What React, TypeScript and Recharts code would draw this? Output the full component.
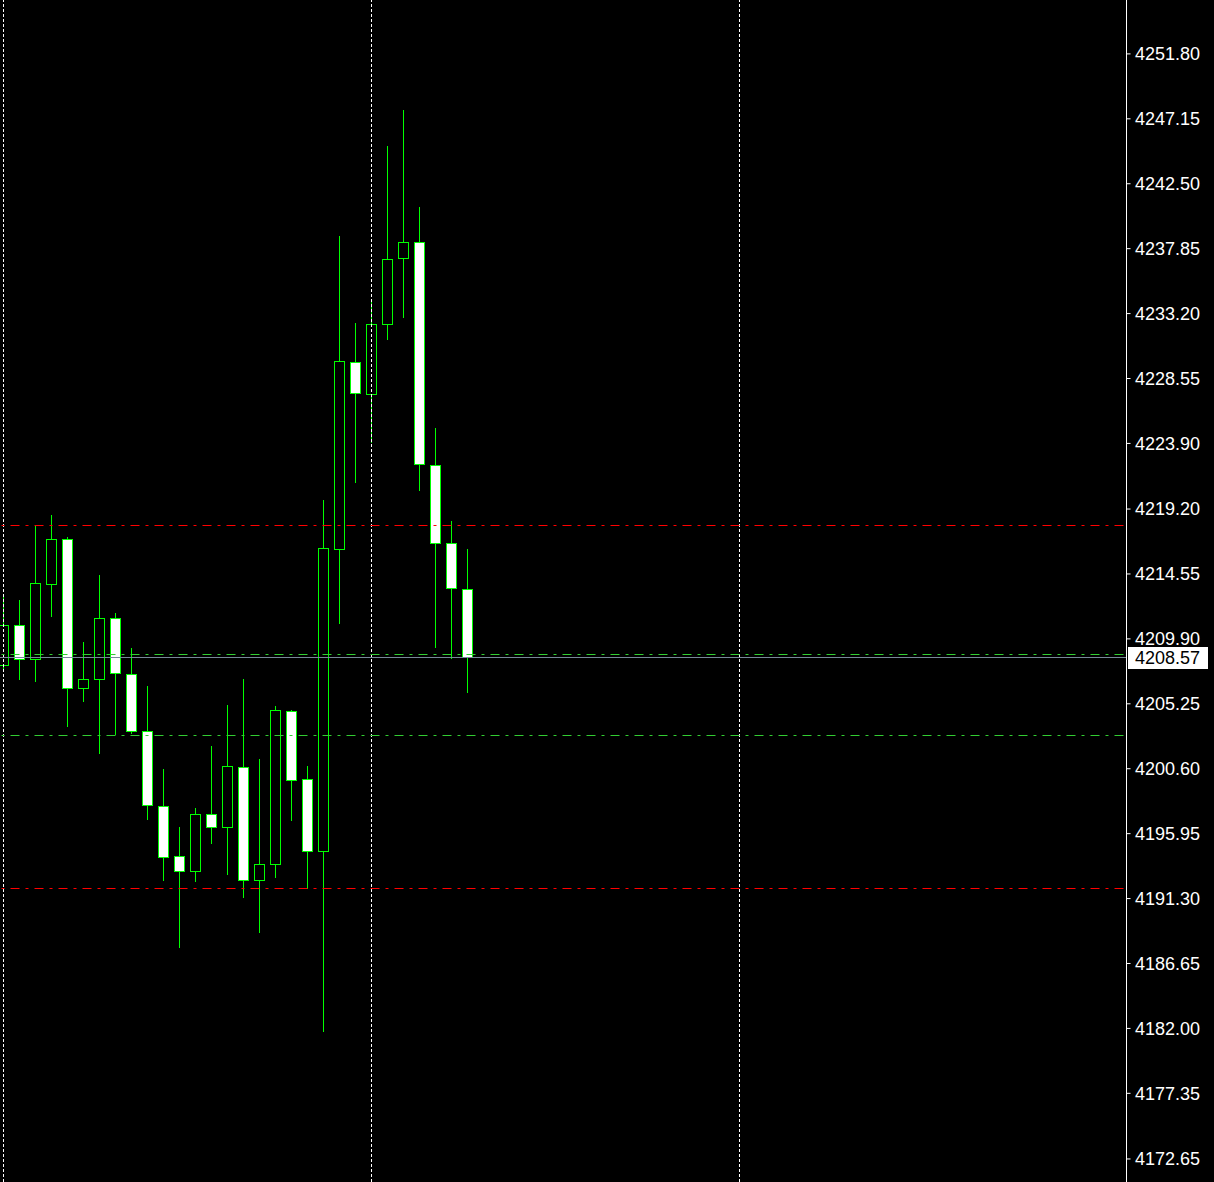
import { Bar, ComposedChart, ReferenceLine, XAxis, YAxis } from "recharts"

// bar index, 0 = leftmost (partly cut) candle
const opens = [
  4208.03, 4210.9, 4208.46, 4213.83, 4217.06, 4206.38, 4207.03, 4211.4, 4207.39, 4203.3,
  4197.93, 4194.35, 4193.28, 4197.36, 4196.43, 4200.72, 4192.63, 4193.78, 4204.74, 4199.87,
  4194.71, 4216.34, 4229.73, 4227.44, 4232.45, 4237.18, 4238.33, 4222.36, 4216.77, 4213.47,
]
const highs = [
  4213.04, 4212.69, 4218.06, 4218.77, 4217.2, 4209.68, 4214.48, 4211.76, 4209.25, 4206.53,
  4200.58, 4196.43, 4197.79, 4202.23, 4205.17, 4207.03, 4201.3, 4205.09, 4204.81, 4200.8,
  4219.85, 4238.76, 4232.53, 4234.17, 4245.2, 4247.78, 4240.83, 4225.01, 4218.34, 4216.34,
]
const lows = [
  4207.74, 4207.03, 4206.89, 4211.54, 4203.66, 4205.45, 4201.73, 4203.09, 4203.16, 4197.0,
  4192.63, 4187.83, 4192.56, 4195.28, 4193.06, 4191.41, 4188.91, 4192.85, 4196.93, 4192.06,
  4181.82, 4211.04, 4221.14, 4224.0, 4231.38, 4232.96, 4220.57, 4209.32, 4208.53, 4206.1,
]
const closes = [
  4210.9, 4208.46, 4213.9, 4217.06, 4206.38, 4207.03, 4211.4, 4207.46, 4203.3, 4198.0,
  4194.28, 4193.28, 4197.36, 4196.43, 4200.8, 4192.63, 4193.78, 4204.81, 4199.79, 4194.71,
  4216.41, 4229.8, 4227.51, 4232.45, 4237.11, 4238.33, 4222.43, 4216.77, 4213.55, 4208.57,
]

const priceTicks = [
  4172.65, 4177.35, 4182.0, 4186.65, 4191.3, 4195.95, 4200.6, 4205.25, 4209.9,
  4214.55, 4219.2, 4223.9, 4228.55, 4233.2, 4237.85, 4242.5, 4247.15, 4251.8,
]

const gridBars = [0, 23, 46]
const redLevels = [4218.04, 4192.04]
const greenLevels = [4208.8, 4203.0]
const lastPrice = 4208.57

const candles = opens.map((open, i) => ({
  i,
  open,
  high: highs[i],
  low: lows[i],
  close: closes[i],
  range: [lows[i], highs[i]],
}))

const GREEN = "#00ff00"
const FONT = "'Liberation Sans', Arial, sans-serif"

function Candle(props: any) {
  const { x, y, width, height, payload } = props
  if (x == null || y == null) return null
  const { open, close, high, low } = payload
  const top = Math.min(y, y + height)
  const bottom = Math.max(y, y + height)
  const toY = (v: number) => top + ((high - v) / (high - low || 1)) * (bottom - top)
  const cx = Math.round(x + width / 2) + 0.5
  const yo = Math.round(toY(open))
  const yc = Math.round(toY(close))
  const bTop = Math.min(yo, yc)
  const bBot = Math.max(yo, yc)
  return (
    <g>
      <line x1={cx} x2={cx} y1={Math.round(top)} y2={Math.round(bottom) + 1} stroke={GREEN} strokeWidth={1} />
      <rect
        x={cx - 5}
        y={bTop + 0.5}
        width={10}
        height={bBot - bTop}
        fill={close >= open ? "#000" : "#fff"}
        stroke={GREEN}
        strokeWidth={1}
      />
    </g>
  )
}

// snap reference lines onto whole pixels
function CrispLine(props: any) {
  const { x1, y1, x2, y2, stroke, strokeDasharray, strokeDashoffset } = props
  const vertical = Math.abs(x1 - x2) < 0.01
  const ax = vertical ? Math.round(x1) + 0.5 : x1
  const bx = vertical ? Math.round(x2) + 0.5 : x2
  const ay = vertical ? y1 : Math.floor(y1) + 0.5
  const by = vertical ? y2 : Math.floor(y2) + 0.5
  return (
    <line
      x1={ax}
      y1={ay}
      x2={bx}
      y2={by}
      stroke={stroke}
      strokeWidth={1}
      strokeDasharray={strokeDasharray}
      strokeDashoffset={strokeDashoffset}
    />
  )
}

function PriceTag(props: any) {
  const vb = props.viewBox
  if (!vb) return null
  const left = Math.round(vb.x + vb.width) + 1
  const cy = Math.round(vb.y)
  return (
    <g>
      <rect x={left} y={cy - 10} width={80} height={22} fill="#fff" />
      <text x={left + 7} y={cy + 1} dy="0.355em" fill="#000" fontSize={18} fontFamily={FONT}>
        {lastPrice.toFixed(2)}
      </text>
    </g>
  )
}

export default function App() {
  return (
    <div style={{ position: "absolute", left: 0, top: 0, width: 1214, height: 1182, background: "#000" }}>
      <ComposedChart
        width={1214}
        height={1182}
        data={candles}
        margin={{ top: 0, right: 0, left: 0, bottom: 0 }}
        style={{ background: "#000" }}
      >
        <XAxis dataKey="i" type="number" domain={[-0.1875, 70.21875]} allowDataOverflow hide />
        <YAxis
          orientation="right"
          type="number"
          domain={[4171.0, 4255.66]}
          allowDataOverflow
          ticks={priceTicks}
          interval={0}
          width={87.5}
          axisLine={{ stroke: "#fff" }}
          tickLine={{ stroke: "#fff" }}
          tickSize={4}
          tickMargin={4.5}
          tick={{ fill: "#fff", fontSize: 18, fontFamily: FONT }}
          tickFormatter={(v: number) => v.toFixed(2)}
        />
        {gridBars.map((b) => (
          <ReferenceLine key={"g" + b} x={b} stroke="#fff" strokeDasharray="3 2" shape={CrispLine} />
        ))}
        {redLevels.map((p) => (
          <ReferenceLine key={"r" + p} y={p} stroke="#ff0000" strokeDasharray="9 6 3 6" strokeDashoffset={21} shape={CrispLine} />
        ))}
        {greenLevels.map((p) => (
          <ReferenceLine key={"gr" + p} y={p} stroke="#32cd32" strokeDasharray="9 6 3 6" strokeDashoffset={21} shape={CrispLine} />
        ))}
        <ReferenceLine y={lastPrice} stroke="#778899" shape={CrispLine} label={<PriceTag />} />
        <Bar dataKey="range" barSize={10} shape={Candle} isAnimationActive={false} />
      </ComposedChart>
    </div>
  )
}
